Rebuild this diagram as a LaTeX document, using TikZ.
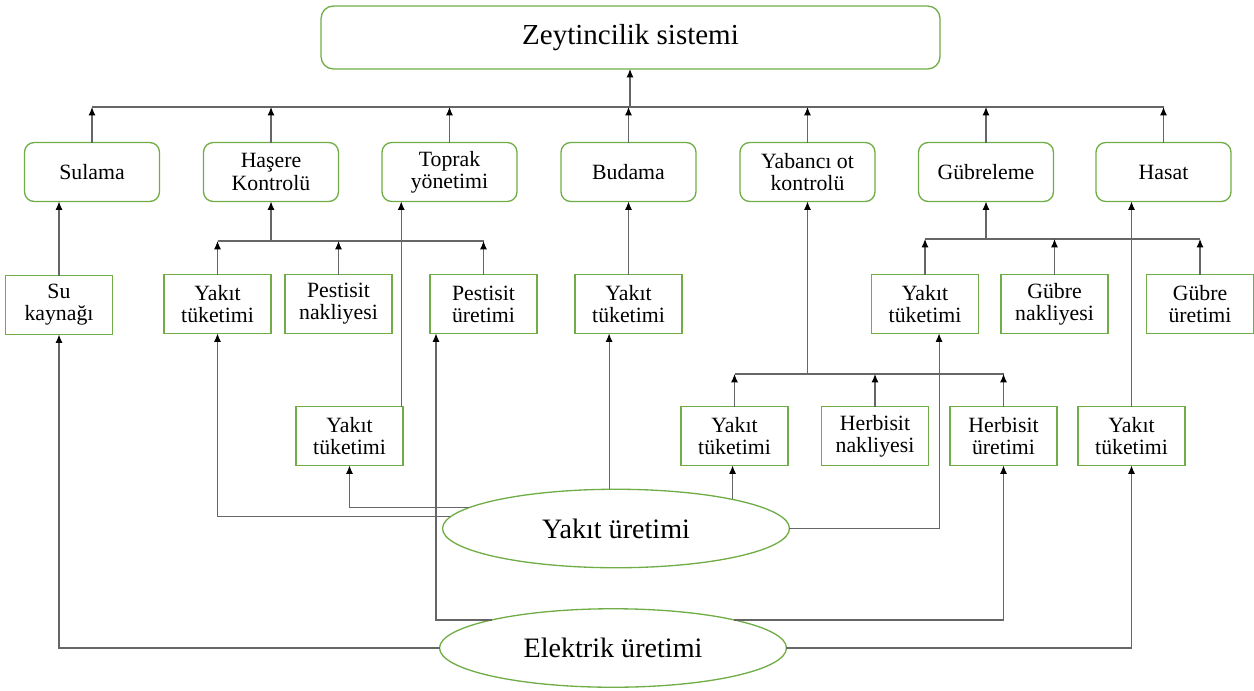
\documentclass[tikz,border=0pt]{standalone}
\usepackage{fontspec}
\setmainfont{Liberation Serif}
\usetikzlibrary{arrows.meta,shapes.geometric}
\definecolor{kutuyesil}{RGB}{112,173,71}
\begin{document}
\begin{tikzpicture}[x=0.02cm,y=-0.02cm]
	\tikzset{>={Latex[length=4.8pt,width=4pt,color=black]}}
	\tikzset{
		kutu/.style={draw=kutuyesil,line width=0.75pt,rounded corners=5.5pt,minimum width=2.7cm,minimum height=1.18cm,align=center,inner sep=1pt,outer sep=0pt,font=\fontsize{12.4}{12.6}\selectfont},
		altkutu/.style={draw=kutuyesil,line width=0.75pt,minimum width=2.14cm,minimum height=1.18cm,align=center,inner sep=1pt,outer sep=0pt,font=\fontsize{12.4}{12.6}\selectfont},
		elips/.style={draw=kutuyesil,line width=0.75pt,ellipse,minimum width=6.94cm,minimum height=1.57cm,inner sep=0pt,outer sep=0pt,font=\fontsize{16}{18}\selectfont},
		ok/.style={draw=black!60,line width=0.6pt,->},
		hat/.style={draw=black!60,line width=0.6pt}
	}
	\useasboundingbox (0,0) rectangle (1254,690);

	\node[kutu,minimum width=12.38cm,minimum height=1.26cm,rounded corners=7pt,font=\fontsize{16.5}{19}\selectfont] (sistem) at (630.5,37.5) {Zeytincilik sistemi};

	\node[kutu] (sulama) at (92,172) {Sulama};
	\node[kutu] (hasere) at (271,172) {Haşere\\Kontrolü};
	\node[kutu] (toprak) at (449.5,172) {Toprak\\yönetimi};
	\node[kutu] (budama) at (628.5,172) {Budama};
	\node[kutu] (yabanci) at (807.5,172) {Yabancı ot\\kontrolü};
	\node[kutu] (gubreleme) at (986,172) {Gübreleme};
	\node[kutu] (hasat) at (1163.5,172) {Hasat};

	\node[altkutu] (su) at (59,305) {Su\\kaynağı};
	\node[altkutu] (hyakit) at (217.5,304) {Yakıt\\tüketimi};
	\node[altkutu] (pnakliye) at (338.5,304) {Pestisit\\nakliyesi};
	\node[altkutu] (puretim) at (483.5,304) {Pestisit\\üretimi};
	\node[altkutu] (byakit) at (628.5,304) {Yakıt\\tüketimi};
	\node[altkutu] (gyakit) at (925,304) {Yakıt\\tüketimi};
	\node[altkutu] (gnakliye) at (1054.5,304) {Gübre\\nakliyesi};
	\node[altkutu] (guretim) at (1200,304) {Gübre\\üretimi};

	\node[altkutu] (tyakit) at (349.5,436) {Yakıt\\tüketimi};
	\node[altkutu] (yyakit) at (734.5,436) {Yakıt\\tüketimi};
	\node[altkutu] (hnakliye) at (875,436) {Herbisit\\nakliyesi};
	\node[altkutu] (huretim) at (1003.5,436) {Herbisit\\üretimi};
	\node[altkutu] (hsyakit) at (1131.5,436) {Yakıt\\tüketimi};

	\node[elips] (yakit) at (616,528.5) {Yakıt üretimi};
	\node[elips] (elektrik) at (613,648) {Elektrik üretimi};

	\coordinate (ana) at (630,107);
	\coordinate (hbus) at (271,241);
	\coordinate (ybus) at (807.5,374);
	\coordinate (gbus) at (986,239);

	\draw[ok] (ana) -- (ana |- sistem.south);
	\draw[hat] (sulama.north |- ana) -- (hasat.north |- ana);
	\draw[ok] (sulama.north) -- (sulama.north |- ana);
	\draw[ok] (hasere.north) -- (hasere.north |- ana);
	\draw[ok] (toprak.north) -- (toprak.north |- ana);
	\draw[ok] (budama.north) -- (budama.north |- ana);
	\draw[ok] (yabanci.north) -- (yabanci.north |- ana);
	\draw[ok] (gubreleme.north) -- (gubreleme.north |- ana);
	\draw[ok] (hasat.north) -- (hasat.north |- ana);

	\draw[ok] (su.north) -- (su.north |- sulama.south);

	\draw[ok] (hbus) -- (hasere.south);
	\draw[hat] (hyakit.north |- hbus) -- (puretim.north |- hbus);
	\draw[ok] (hyakit.north) -- (hyakit.north |- hbus);
	\draw[ok] (pnakliye.north) -- (pnakliye.north |- hbus);
	\draw[ok] (puretim.north) -- (puretim.north |- hbus);

	\draw[ok] ([xshift=-1pt]tyakit.north east) -- ([xshift=-1pt]tyakit.north east |- toprak.south);
	\draw[ok] (byakit.north) -- (budama.south);

	\draw[ok] (ybus) -- (yabanci.south);
	\draw[hat] (yyakit.north |- ybus) -- (huretim.north |- ybus);
	\draw[ok] (yyakit.north) -- (yyakit.north |- ybus);
	\draw[ok] (hnakliye.north) -- (hnakliye.north |- ybus);
	\draw[ok] (huretim.north) -- (huretim.north |- ybus);

	\draw[ok] (gbus) -- (gubreleme.south);
	\draw[hat] (gyakit.north |- gbus) -- (guretim.north |- gbus);
	\draw[ok] (gyakit.north) -- (gyakit.north |- gbus);
	\draw[ok] (gnakliye.north) -- (gnakliye.north |- gbus);
	\draw[ok] (guretim.north) -- (guretim.north |- gbus);

	\draw[ok] (hsyakit.north) -- (hsyakit.north |- hasat.south);

	\draw[ok] (yakit.172) -| (tyakit.south);
	\draw[ok] (yakit.176) -| (hyakit.south);
	\draw[ok] (yakit.100) -- (yakit.100 |- byakit.south);
	\draw[ok] (yakit.14) -- (yakit.14 |- yyakit.south);
	\draw[ok] (yakit.east) -| ([xshift=8pt]gyakit.south);

	\draw[ok] (elektrik.west) -| (su.south);
	\draw[ok] (elektrik.167) -| ([xshift=3.4pt]puretim.south west);
	\draw[ok] (elektrik.13) -| (huretim.south);
	\draw[ok] (elektrik.east) -| (hsyakit.south);

\end{tikzpicture}
\end{document}
